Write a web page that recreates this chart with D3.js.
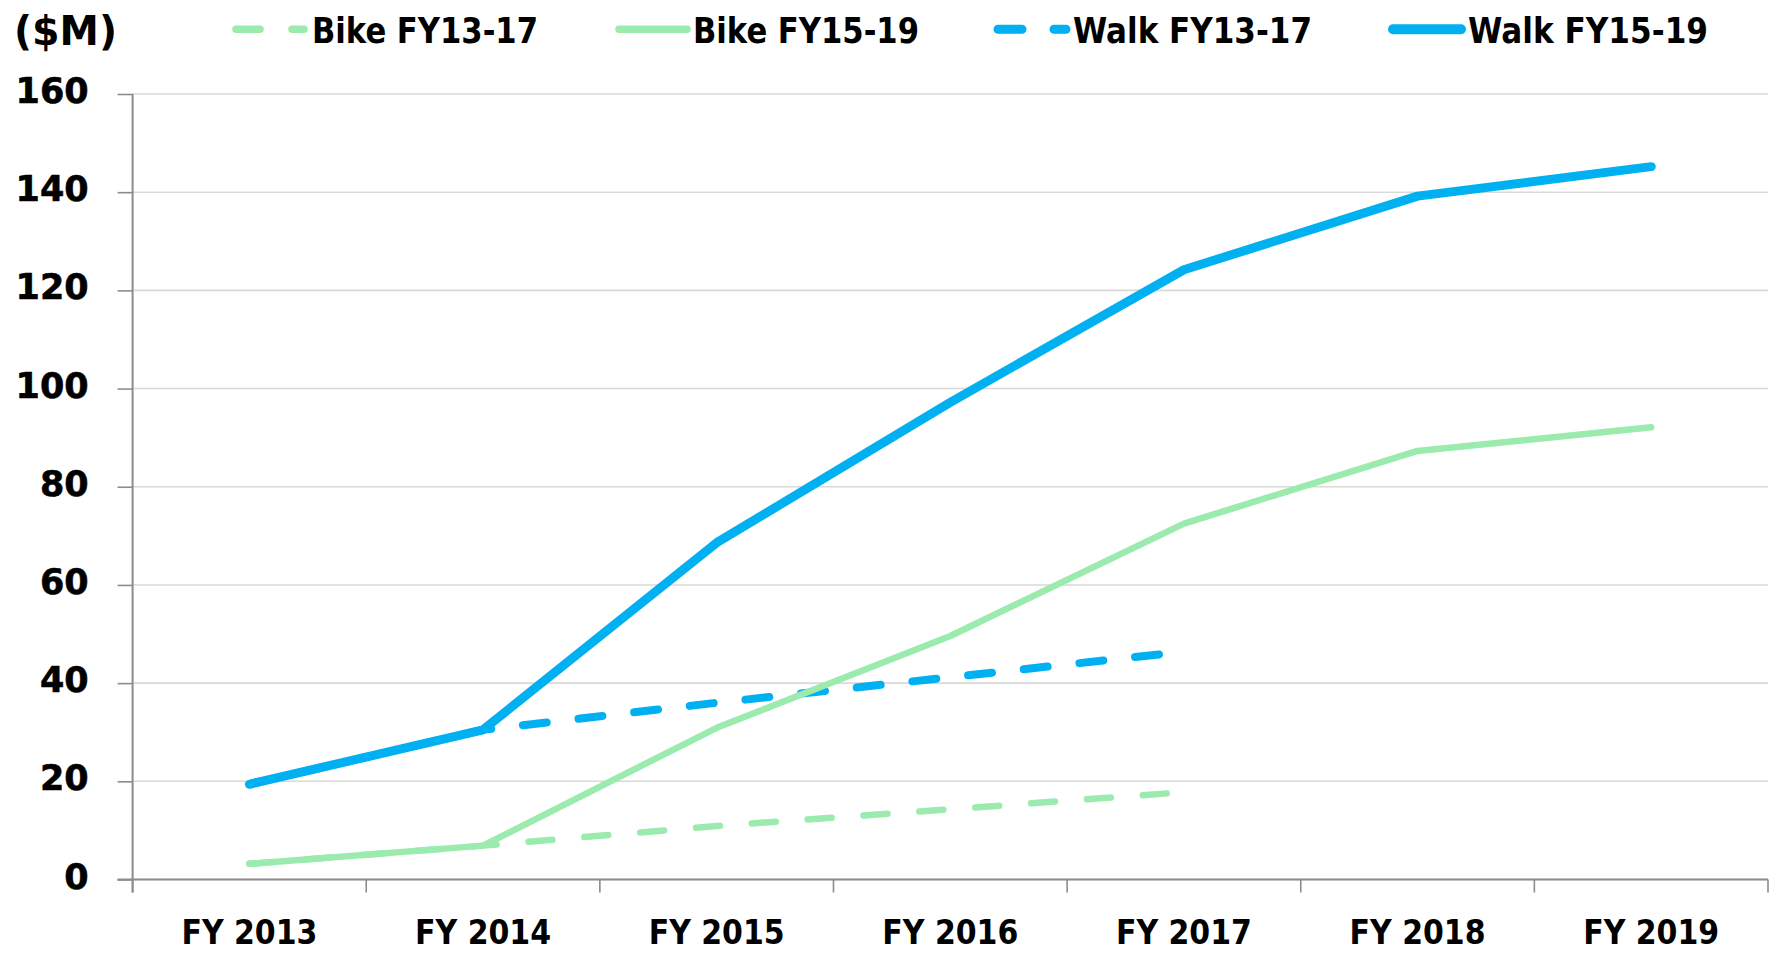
<!DOCTYPE html>
<html>
<head>
<meta charset="utf-8">
<script src="https://cdn.jsdelivr.net/npm/d3@7"></script>
<style>
  html, body { margin: 0; padding: 0; background: #fff; }
  svg { display: block; }
  text { font-family: "DejaVu Sans", sans-serif; font-weight: bold; fill: #000; }
</style>
</head>
<body>
<svg id="chart" width="1777" height="958"></svg>
<script>
const categories = ["FY 2013", "FY 2014", "FY 2015", "FY 2016", "FY 2017", "FY 2018", "FY 2019"];
const bikeFY13_17 = [3.2, 6.9, 10.9, 14.3, 17.8];
const bikeFY15_19 = [3.2, 6.9, 30.9, 49.6, 72.5, 87.3, 92.1];
const walkFY13_17 = [19.4, 30.5, 36.0, 41.2, 46.4];
const walkFY15_19 = [19.4, 30.5, 68.6, 97.2, 124.2, 139.2, 145.2];
const yTicks = [0, 20, 40, 60, 80, 100, 120, 140, 160];
const unitLabel = "($M)";

const series = [
  { name: "Bike FY13-17", values: bikeFY13_17, color: "#9beaae", width: 6.5, dashed: true },
  { name: "Bike FY15-19", values: bikeFY15_19, color: "#9beaae", width: 6.5, dashed: false },
  { name: "Walk FY13-17", values: walkFY13_17, color: "#00b0f0", width: 8, dashed: true },
  { name: "Walk FY15-19", values: walkFY15_19, color: "#00b0f0", width: 9, dashed: false }
];

const svg = d3.select("#chart");
const pLeft = 132.6, pRight = 1768, pTop = 94, pBottom = 879.5;

const x = d3.scaleBand().domain(categories).range([pLeft, pRight]).padding(0);
const y = d3.scaleLinear().domain([0, 160]).range([pBottom, pTop]);

// gridlines
svg.append("g").selectAll("line").data(yTicks).join("line")
  .attr("x1", pLeft).attr("x2", pRight)
  .attr("y1", d => y(d)).attr("y2", d => y(d))
  .attr("stroke", "#d9d9d9").attr("stroke-width", 1.6);

// y axis
const yAxis = svg.append("g").attr("transform", `translate(${pLeft},0)`)
  .call(d3.axisLeft(y).tickValues(yTicks).tickSize(15).tickPadding(29).tickFormat(d3.format("d")));
yAxis.select(".domain").remove();
yAxis.selectAll(".tick line").attr("stroke", "#8c8c8c").attr("stroke-width", 1.6);
yAxis.selectAll(".tick text").attr("font-size", 35).attr("font-family", "DejaVu Sans")
  .attr("font-weight", "bold").attr("fill", "#000").attr("dy", null).attr("y", 8.5)
  .attr("stroke", "#000").attr("stroke-width", 0.6);
svg.append("line").attr("x1", pLeft).attr("x2", pLeft).attr("y1", pTop).attr("y2", pBottom + 13)
  .attr("stroke", "#8c8c8c").attr("stroke-width", 2);

// x axis
const boundaries = categories.map(c => x(c)).concat([pRight]);
svg.append("line").attr("x1", pLeft - 15).attr("x2", pRight).attr("y1", pBottom).attr("y2", pBottom)
  .attr("stroke", "#8c8c8c").attr("stroke-width", 2);
svg.append("g").selectAll("line").data(boundaries).join("line")
  .attr("x1", d => d).attr("x2", d => d).attr("y1", pBottom).attr("y2", pBottom + 13)
  .attr("stroke", "#8c8c8c").attr("stroke-width", 1.6);
svg.append("g").selectAll("text").data(categories).join("text")
  .attr("x", d => x(d) + x.bandwidth() / 2).attr("y", 944)
  .attr("text-anchor", "middle").attr("font-size", 33)
  .attr("textLength", 136).attr("lengthAdjust", "spacingAndGlyphs")
  .text(d => d);

// lines
const line = d3.line().x((d, i) => x(categories[i]) + x.bandwidth() / 2).y(d => y(d));
const drawOrder = [series[0], series[2], series[1], series[3]];
svg.append("g").selectAll("path").data(drawOrder).join("path")
  .attr("d", d => line(d.values))
  .attr("fill", "none")
  .attr("stroke", d => d.color)
  .attr("stroke-width", d => d.width)
  .attr("stroke-linecap", "round")
  .attr("stroke-linejoin", "round")
  .attr("stroke-dasharray", d => d.dashed ? "24,32" : null);

// legend
svg.append("text").attr("x", 14).attr("y", 45).attr("font-size", 40)
  .attr("textLength", 103).attr("lengthAdjust", "spacingAndGlyphs").text(unitLabel);

const legendLineX = [236, 619, 998, 1393];
const legendTextX = [312, 693, 1073, 1468];
const legendTextW = [226, 226, 239, 240];
const lg = svg.append("g").selectAll("g").data(series).join("g");
lg.append("line")
  .attr("x1", (d, i) => legendLineX[i]).attr("x2", (d, i) => legendLineX[i] + 68)
  .attr("y1", 29.3).attr("y2", 29.3)
  .attr("stroke", d => d.color).attr("stroke-width", d => d.width + 1)
  .attr("stroke-linecap", "round")
  .attr("stroke-dasharray", d => d.dashed ? "24,32" : null);
lg.append("text").attr("x", (d, i) => legendTextX[i]).attr("y", 43).attr("font-size", 35)
  .attr("textLength", (d, i) => legendTextW[i]).attr("lengthAdjust", "spacingAndGlyphs")
  .text(d => d.name);
</script>
</body>
</html>
